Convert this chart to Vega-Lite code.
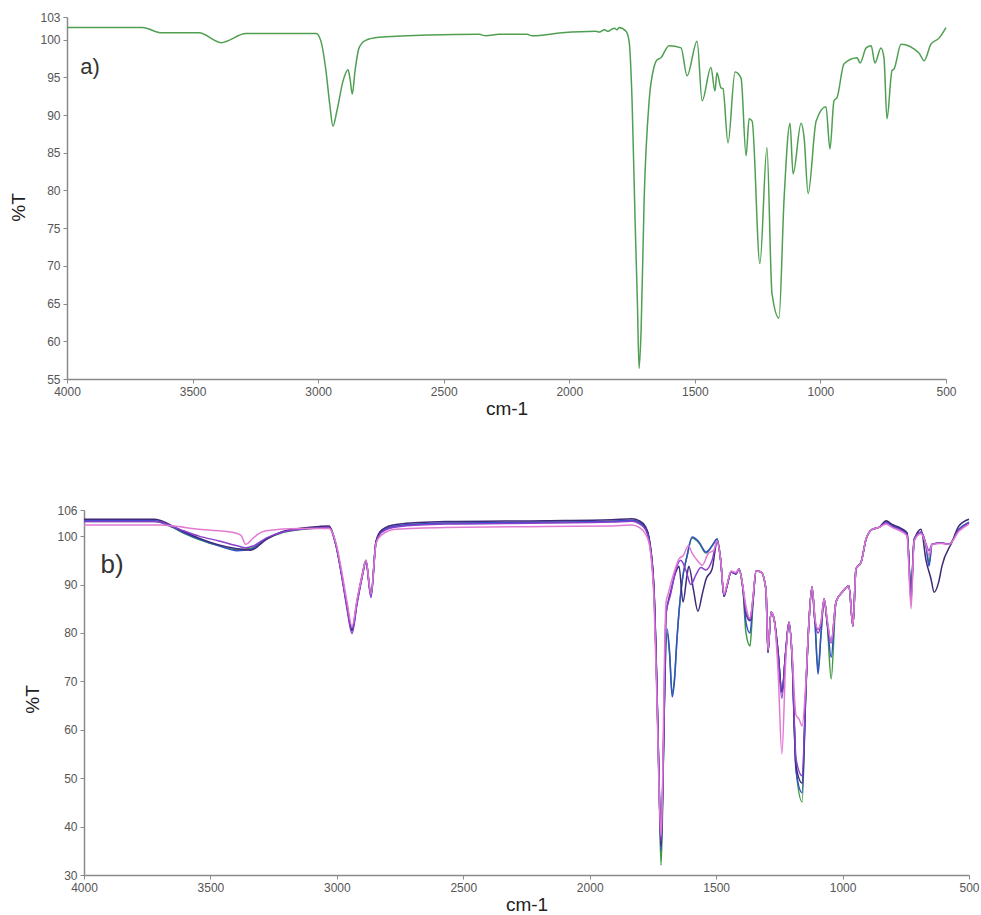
{
  "$schema": "https://vega.github.io/schema/vega-lite/v6.json",
  "background": "white",
  "padding": {"left": 0, "top": 11, "right": 0, "bottom": 0},
  "config": {
    "view": {"stroke": null},
    "font": "Liberation Sans",
    "axis": {
      "grid": false,
      "domainColor": "#8a8a8a",
      "domainWidth": 1.5,
      "tickColor": "#8a8a8a",
      "tickSize": 4,
      "labelPadding": 3,
      "labelFont": "Liberation Sans",
      "labelFontSize": 12,
      "labelColor": "#555555",
      "labelOverlap": false,
      "labelFlush": false,
      "titleFont": "Liberation Sans",
      "titleFontSize": 19,
      "titleFontWeight": "normal",
      "titleColor": "#222222"
    },
    "axisY": {"labelOverlap": false},
    "axisQuantitative": {"labelOverlap": false}
  },
  "spacing": 86,
  "vconcat": [
    {
      "spacing": 0,
      "hconcat": [
        {"width": 9, "height": 10, "data": {"values": []}, "mark": {"type": "point", "opacity": 0}, "encoding": {}},
        {
          "width": 879,
          "height": 362,
          "data": {"values": [
            {"w":4000,"t":101.6},{"w":3700,"t":101.6},{"w":3622,"t":100.9},{"w":3474,"t":100.9},{"w":3387,"t":99.6},{"w":3287,"t":100.8},{"w":3156,"t":100.8},{"w":3008,"t":100.8},{"w":2989,"t":99.8},{"w":2969,"t":95.9},{"w":2953,"t":91.2},{"w":2941,"t":88.5},{"w":2925,"t":90.6},{"w":2901,"t":94.5},{"w":2881,"t":96.0},{"w":2873,"t":94.8},{"w":2864,"t":92.8},{"w":2853,"t":95.9},{"w":2837,"t":98.9},{"w":2811,"t":99.9},{"w":2758,"t":100.3},{"w":2558,"t":100.6},{"w":2359,"t":100.7},{"w":2332,"t":100.5},{"w":2280,"t":100.7},{"w":2168,"t":100.7},{"w":2148,"t":100.5},{"w":2029,"t":100.9},{"w":1894,"t":101.1},{"w":1880,"t":101.0},{"w":1860,"t":101.3},{"w":1845,"t":101.1},{"w":1830,"t":101.4},{"w":1820,"t":101.5},{"w":1810,"t":101.3},{"w":1802,"t":101.6},{"w":1774,"t":101.1},{"w":1762,"t":99.8},{"w":1750,"t":91.9},{"w":1738,"t":76.0},{"w":1729,"t":65.4},{"w":1722,"t":56.4},{"w":1714,"t":61.5},{"w":1702,"t":78.7},{"w":1682,"t":91.9},{"w":1663,"t":96.3},{"w":1651,"t":97.3},{"w":1635,"t":97.6},{"w":1603,"t":99.2},{"w":1555,"t":98.9},{"w":1531,"t":95.2},{"w":1491,"t":99.8},{"w":1471,"t":91.9},{"w":1436,"t":96.3},{"w":1420,"t":93.2},{"w":1412,"t":95.6},{"w":1396,"t":93.6},{"w":1388,"t":93.5},{"w":1368,"t":86.3},{"w":1340,"t":95.7},{"w":1316,"t":94.9},{"w":1296,"t":84.6},{"w":1284,"t":89.5},{"w":1272,"t":89.2},{"w":1241,"t":70.3},{"w":1213,"t":85.7},{"w":1193,"t":66.4},{"w":1165,"t":63.1},{"w":1145,"t":78.7},{"w":1121,"t":88.9},{"w":1109,"t":82.2},{"w":1077,"t":88.9},{"w":1065,"t":87.0},{"w":1049,"t":79.6},{"w":1017,"t":89.2},{"w":978,"t":91.1},{"w":962,"t":85.5},{"w":946,"t":91.9},{"w":934,"t":92.3},{"w":906,"t":96.8},{"w":854,"t":97.6},{"w":842,"t":96.9},{"w":818,"t":98.9},{"w":798,"t":99.2},{"w":783,"t":96.9},{"w":759,"t":98.9},{"w":747,"t":97.6},{"w":735,"t":89.5},{"w":715,"t":95.9},{"w":707,"t":96.1},{"w":679,"t":99.4},{"w":607,"t":98.2},{"w":587,"t":97.2},{"w":560,"t":99.4},{"w":528,"t":100.2},{"w":500,"t":101.6}
          ]},
          "layer": [
            {
              "mark": {"type": "line", "color": "#4f9f52", "strokeWidth": 1.5, "interpolate": "monotone"},
              "encoding": {
                "x": {"field": "w", "type": "quantitative",
                  "scale": {"domain": [500, 4000], "reverse": true, "nice": false},
                  "axis": {"values": [4000, 3500, 3000, 2500, 2000, 1500, 1000, 500], "format": "d", "title": "cm-1", "titlePadding": 2, "labelOverlap": false}},
                "y": {"field": "t", "type": "quantitative",
                  "scale": {"domain": [55, 103], "nice": false, "zero": false},
                  "axis": {"values": [55, 60, 65, 70, 75, 80, 85, 90, 95, 100, 103], "title": "%T", "titlePadding": 11, "titleY": 190, "labelOverlap": false}}
              }
            },
            {
              "data": {"values": [{"label": "a)", "w": 3908, "t": 96.4}]},
              "mark": {"type": "text", "fontSize": 22, "color": "#333333", "align": "center", "baseline": "middle"},
              "encoding": {
                "x": {"field": "w", "type": "quantitative",
                  "axis": {"values": [4000, 3500, 3000, 2500, 2000, 1500, 1000, 500], "format": "d", "title": "cm-1", "titlePadding": 2, "labelOverlap": false}},
                "y": {"field": "t", "type": "quantitative",
                  "axis": {"values": [55, 60, 65, 70, 75, 80, 85, 90, 95, 100, 103], "title": "%T", "titlePadding": 11, "titleY": 190, "labelOverlap": false}},
                "text": {"field": "label"}
              }
            }
          ]
        }
      ]
    },
    {
      "spacing": 0,
      "hconcat": [
        {"width": 23, "height": 10, "data": {"values": []}, "mark": {"type": "point", "opacity": 0}, "encoding": {}},
        {
          "width": 885,
          "height": 365,
          "data": {"values": [
            {"s":"g","w":4000,"t":103.0},{"s":"g","w":3720,"t":103.0},{"s":"g","w":3680,"t":102.5},{"s":"g","w":3650,"t":101.8},{"s":"g","w":3600,"t":100.5},{"s":"g","w":3545,"t":99.3},{"s":"g","w":3466,"t":98.0},{"s":"g","w":3395,"t":97.2},{"s":"g","w":3340,"t":97.5},{"s":"g","w":3280,"t":99.4},{"s":"g","w":3217,"t":100.7},{"s":"g","w":3150,"t":101.3},{"s":"g","w":3070,"t":101.7},{"s":"g","w":3031,"t":101.8},{"s":"g","w":3003,"t":98.0},{"s":"g","w":2980,"t":91.7},{"s":"g","w":2960,"t":85.5},{"s":"g","w":2940,"t":80.6},{"s":"g","w":2920,"t":86.4},{"s":"g","w":2900,"t":91.7},{"s":"g","w":2885,"t":94.8},{"s":"g","w":2865,"t":87.8},{"s":"g","w":2845,"t":98.8},{"s":"g","w":2822,"t":101.0},{"s":"g","w":2766,"t":102.0},{"s":"g","w":2570,"t":102.6},{"s":"g","w":2173,"t":102.8},{"s":"g","w":1912,"t":103.0},{"s":"g","w":1833,"t":103.2},{"s":"g","w":1805,"t":102.8},{"s":"g","w":1780,"t":101.7},{"s":"g","w":1765,"t":99.3},{"s":"g","w":1746,"t":89.0},{"s":"g","w":1734,"t":68.0},{"s":"g","w":1726,"t":49.0},{"s":"g","w":1718,"t":32.0},{"s":"g","w":1712,"t":43.0},{"s":"g","w":1706,"t":62.0},{"s":"g","w":1694,"t":80.0},{"s":"g","w":1684,"t":75.5},{"s":"g","w":1674,"t":67.5},{"s":"g","w":1665,"t":70.5},{"s":"g","w":1655,"t":78.7},{"s":"g","w":1635,"t":90.5},{"s":"g","w":1615,"t":95.9},{"s":"g","w":1595,"t":99.6},{"s":"g","w":1568,"t":98.6},{"s":"g","w":1540,"t":96.5},{"s":"g","w":1516,"t":98.0},{"s":"g","w":1496,"t":99.4},{"s":"g","w":1482,"t":95.0},{"s":"g","w":1469,"t":87.6},{"s":"g","w":1457,"t":89.7},{"s":"g","w":1441,"t":92.6},{"s":"g","w":1422,"t":92.2},{"s":"g","w":1410,"t":93.2},{"s":"g","w":1394,"t":89.1},{"s":"g","w":1382,"t":80.0},{"s":"g","w":1366,"t":77.3},{"s":"g","w":1355,"t":85.5},{"s":"g","w":1342,"t":92.8},{"s":"g","w":1322,"t":92.6},{"s":"g","w":1303,"t":89.0},{"s":"g","w":1295,"t":76.0},{"s":"g","w":1283,"t":84.3},{"s":"g","w":1271,"t":82.9},{"s":"g","w":1255,"t":76.0},{"s":"g","w":1240,"t":67.8},{"s":"g","w":1225,"t":76.0},{"s":"g","w":1212,"t":82.2},{"s":"g","w":1200,"t":75.3},{"s":"g","w":1184,"t":52.0},{"s":"g","w":1160,"t":45.1},{"s":"g","w":1145,"t":68.4},{"s":"g","w":1133,"t":82.2},{"s":"g","w":1121,"t":89.5},{"s":"g","w":1109,"t":82.2},{"s":"g","w":1097,"t":72.5},{"s":"g","w":1085,"t":80.0},{"s":"g","w":1073,"t":87.0},{"s":"g","w":1061,"t":82.2},{"s":"g","w":1045,"t":70.5},{"s":"g","w":1026,"t":86.4},{"s":"g","w":1002,"t":88.4},{"s":"g","w":975,"t":89.7},{"s":"g","w":959,"t":81.4},{"s":"g","w":947,"t":93.2},{"s":"g","w":927,"t":94.6},{"s":"g","w":907,"t":99.4},{"s":"g","w":883,"t":101.4},{"s":"g","w":856,"t":101.8},{"s":"g","w":828,"t":102.8},{"s":"g","w":804,"t":102.0},{"s":"g","w":769,"t":101.3},{"s":"g","w":745,"t":100.4},{"s":"g","w":729,"t":88.0},{"s":"g","w":717,"t":99.4},{"s":"g","w":690,"t":100.8},{"s":"g","w":670,"t":98.0},{"s":"g","w":658,"t":94.5},{"s":"g","w":646,"t":98.3},{"s":"g","w":610,"t":98.6},{"s":"g","w":579,"t":98.3},{"s":"g","w":540,"t":101.4},{"s":"g","w":500,"t":102.8},

            {"s":"b","w":4000,"t":103.2},{"s":"b","w":3720,"t":103.2},{"s":"b","w":3680,"t":102.6},{"s":"b","w":3650,"t":101.9},{"s":"b","w":3600,"t":100.6},{"s":"b","w":3545,"t":99.4},{"s":"b","w":3466,"t":98.0},{"s":"b","w":3395,"t":97.0},{"s":"b","w":3340,"t":97.3},{"s":"b","w":3280,"t":99.4},{"s":"b","w":3217,"t":100.8},{"s":"b","w":3150,"t":101.4},{"s":"b","w":3070,"t":101.8},{"s":"b","w":3031,"t":101.9},{"s":"b","w":3003,"t":98.0},{"s":"b","w":2980,"t":91.7},{"s":"b","w":2960,"t":85.5},{"s":"b","w":2940,"t":80.4},{"s":"b","w":2920,"t":86.4},{"s":"b","w":2900,"t":91.7},{"s":"b","w":2885,"t":94.8},{"s":"b","w":2865,"t":87.6},{"s":"b","w":2845,"t":98.8},{"s":"b","w":2822,"t":101.0},{"s":"b","w":2766,"t":102.1},{"s":"b","w":2570,"t":102.7},{"s":"b","w":2173,"t":102.9},{"s":"b","w":1912,"t":103.1},{"s":"b","w":1833,"t":103.3},{"s":"b","w":1805,"t":102.9},{"s":"b","w":1780,"t":101.8},{"s":"b","w":1765,"t":99.4},{"s":"b","w":1746,"t":89.0},{"s":"b","w":1734,"t":68.0},{"s":"b","w":1726,"t":50.0},{"s":"b","w":1718,"t":35.0},{"s":"b","w":1712,"t":45.0},{"s":"b","w":1706,"t":62.0},{"s":"b","w":1694,"t":80.8},{"s":"b","w":1684,"t":76.0},{"s":"b","w":1674,"t":66.8},{"s":"b","w":1665,"t":70.0},{"s":"b","w":1655,"t":78.7},{"s":"b","w":1635,"t":90.5},{"s":"b","w":1615,"t":95.9},{"s":"b","w":1595,"t":99.8},{"s":"b","w":1568,"t":98.8},{"s":"b","w":1540,"t":96.7},{"s":"b","w":1516,"t":98.0},{"s":"b","w":1496,"t":99.4},{"s":"b","w":1482,"t":95.0},{"s":"b","w":1469,"t":87.6},{"s":"b","w":1457,"t":89.7},{"s":"b","w":1441,"t":92.6},{"s":"b","w":1422,"t":92.2},{"s":"b","w":1410,"t":93.2},{"s":"b","w":1394,"t":89.1},{"s":"b","w":1382,"t":82.2},{"s":"b","w":1366,"t":80.0},{"s":"b","w":1355,"t":86.0},{"s":"b","w":1342,"t":92.8},{"s":"b","w":1322,"t":92.6},{"s":"b","w":1303,"t":89.0},{"s":"b","w":1295,"t":76.0},{"s":"b","w":1283,"t":84.3},{"s":"b","w":1271,"t":82.9},{"s":"b","w":1255,"t":76.0},{"s":"b","w":1240,"t":67.8},{"s":"b","w":1225,"t":76.0},{"s":"b","w":1212,"t":82.2},{"s":"b","w":1200,"t":75.3},{"s":"b","w":1184,"t":51.5},{"s":"b","w":1160,"t":47.0},{"s":"b","w":1145,"t":68.4},{"s":"b","w":1133,"t":82.2},{"s":"b","w":1121,"t":89.5},{"s":"b","w":1109,"t":82.2},{"s":"b","w":1097,"t":71.5},{"s":"b","w":1085,"t":80.0},{"s":"b","w":1073,"t":87.0},{"s":"b","w":1061,"t":82.2},{"s":"b","w":1045,"t":75.0},{"s":"b","w":1026,"t":86.4},{"s":"b","w":1002,"t":88.4},{"s":"b","w":975,"t":89.7},{"s":"b","w":959,"t":81.4},{"s":"b","w":947,"t":93.2},{"s":"b","w":927,"t":94.6},{"s":"b","w":907,"t":99.4},{"s":"b","w":883,"t":101.4},{"s":"b","w":856,"t":101.8},{"s":"b","w":828,"t":102.9},{"s":"b","w":804,"t":102.1},{"s":"b","w":769,"t":101.4},{"s":"b","w":745,"t":100.5},{"s":"b","w":729,"t":88.4},{"s":"b","w":717,"t":99.4},{"s":"b","w":690,"t":100.8},{"s":"b","w":670,"t":98.0},{"s":"b","w":658,"t":93.8},{"s":"b","w":646,"t":98.3},{"s":"b","w":610,"t":98.6},{"s":"b","w":579,"t":98.3},{"s":"b","w":540,"t":101.4},{"s":"b","w":500,"t":102.9},

            {"s":"n","w":4000,"t":103.5},{"s":"n","w":3720,"t":103.5},{"s":"n","w":3680,"t":102.9},{"s":"n","w":3650,"t":102.1},{"s":"n","w":3600,"t":100.8},{"s":"n","w":3545,"t":99.6},{"s":"n","w":3466,"t":98.2},{"s":"n","w":3395,"t":97.4},{"s":"n","w":3340,"t":97.1},{"s":"n","w":3280,"t":99.3},{"s":"n","w":3217,"t":100.9},{"s":"n","w":3150,"t":101.6},{"s":"n","w":3070,"t":102.0},{"s":"n","w":3031,"t":102.1},{"s":"n","w":3003,"t":98.2},{"s":"n","w":2980,"t":91.9},{"s":"n","w":2960,"t":85.8},{"s":"n","w":2940,"t":80.6},{"s":"n","w":2920,"t":86.6},{"s":"n","w":2900,"t":91.9},{"s":"n","w":2885,"t":95.0},{"s":"n","w":2865,"t":87.9},{"s":"n","w":2845,"t":99.0},{"s":"n","w":2822,"t":101.3},{"s":"n","w":2766,"t":102.4},{"s":"n","w":2570,"t":103.0},{"s":"n","w":2173,"t":103.2},{"s":"n","w":1912,"t":103.4},{"s":"n","w":1833,"t":103.6},{"s":"n","w":1805,"t":103.2},{"s":"n","w":1780,"t":102.0},{"s":"n","w":1765,"t":99.6},{"s":"n","w":1746,"t":89.5},{"s":"n","w":1734,"t":68.5},{"s":"n","w":1726,"t":50.5},{"s":"n","w":1718,"t":36.0},{"s":"n","w":1712,"t":46.0},{"s":"n","w":1706,"t":62.0},{"s":"n","w":1698,"t":84.0},{"s":"n","w":1690,"t":86.4},{"s":"n","w":1680,"t":88.5},{"s":"n","w":1660,"t":92.5},{"s":"n","w":1647,"t":93.8},{"s":"n","w":1631,"t":86.4},{"s":"n","w":1615,"t":92.0},{"s":"n","w":1608,"t":93.8},{"s":"n","w":1590,"t":89.0},{"s":"n","w":1572,"t":84.5},{"s":"n","w":1555,"t":88.0},{"s":"n","w":1540,"t":91.1},{"s":"n","w":1516,"t":93.2},{"s":"n","w":1496,"t":98.8},{"s":"n","w":1482,"t":95.0},{"s":"n","w":1469,"t":87.6},{"s":"n","w":1457,"t":89.7},{"s":"n","w":1441,"t":92.6},{"s":"n","w":1422,"t":92.2},{"s":"n","w":1410,"t":93.2},{"s":"n","w":1394,"t":89.1},{"s":"n","w":1382,"t":84.0},{"s":"n","w":1366,"t":82.5},{"s":"n","w":1355,"t":86.5},{"s":"n","w":1342,"t":92.8},{"s":"n","w":1322,"t":92.6},{"s":"n","w":1303,"t":89.0},{"s":"n","w":1295,"t":76.0},{"s":"n","w":1283,"t":84.3},{"s":"n","w":1271,"t":82.9},{"s":"n","w":1255,"t":76.0},{"s":"n","w":1240,"t":67.8},{"s":"n","w":1225,"t":76.0},{"s":"n","w":1212,"t":82.2},{"s":"n","w":1200,"t":75.3},{"s":"n","w":1184,"t":52.5},{"s":"n","w":1160,"t":49.0},{"s":"n","w":1145,"t":68.4},{"s":"n","w":1133,"t":82.2},{"s":"n","w":1121,"t":89.5},{"s":"n","w":1109,"t":82.2},{"s":"n","w":1097,"t":80.8},{"s":"n","w":1085,"t":82.0},{"s":"n","w":1073,"t":87.0},{"s":"n","w":1061,"t":82.2},{"s":"n","w":1045,"t":78.0},{"s":"n","w":1026,"t":86.4},{"s":"n","w":1002,"t":88.4},{"s":"n","w":975,"t":89.7},{"s":"n","w":959,"t":81.4},{"s":"n","w":947,"t":93.2},{"s":"n","w":927,"t":94.6},{"s":"n","w":907,"t":99.4},{"s":"n","w":883,"t":101.4},{"s":"n","w":856,"t":101.8},{"s":"n","w":828,"t":103.2},{"s":"n","w":804,"t":102.4},{"s":"n","w":769,"t":101.6},{"s":"n","w":745,"t":100.7},{"s":"n","w":729,"t":88.4},{"s":"n","w":717,"t":99.0},{"s":"n","w":690,"t":101.4},{"s":"n","w":670,"t":95.0},{"s":"n","w":650,"t":91.1},{"s":"n","w":638,"t":88.4},{"s":"n","w":620,"t":90.5},{"s":"n","w":607,"t":93.8},{"s":"n","w":567,"t":98.8},{"s":"n","w":540,"t":102.1},{"s":"n","w":500,"t":103.5},

            {"s":"v","w":4000,"t":103.0},{"s":"v","w":3720,"t":103.0},{"s":"v","w":3680,"t":102.6},{"s":"v","w":3650,"t":102.0},{"s":"v","w":3600,"t":101.0},{"s":"v","w":3545,"t":100.0},{"s":"v","w":3466,"t":99.0},{"s":"v","w":3395,"t":98.0},{"s":"v","w":3360,"t":97.6},{"s":"v","w":3330,"t":98.0},{"s":"v","w":3280,"t":99.6},{"s":"v","w":3217,"t":100.8},{"s":"v","w":3150,"t":101.4},{"s":"v","w":3070,"t":101.7},{"s":"v","w":3031,"t":101.8},{"s":"v","w":3003,"t":98.0},{"s":"v","w":2980,"t":91.5},{"s":"v","w":2960,"t":85.0},{"s":"v","w":2940,"t":79.9},{"s":"v","w":2920,"t":86.0},{"s":"v","w":2900,"t":91.5},{"s":"v","w":2885,"t":94.6},{"s":"v","w":2865,"t":87.3},{"s":"v","w":2845,"t":98.6},{"s":"v","w":2822,"t":100.8},{"s":"v","w":2766,"t":101.9},{"s":"v","w":2570,"t":102.5},{"s":"v","w":2173,"t":102.7},{"s":"v","w":1912,"t":102.9},{"s":"v","w":1833,"t":103.1},{"s":"v","w":1805,"t":102.6},{"s":"v","w":1780,"t":101.4},{"s":"v","w":1765,"t":99.0},{"s":"v","w":1746,"t":88.5},{"s":"v","w":1734,"t":67.5},{"s":"v","w":1726,"t":49.5},{"s":"v","w":1718,"t":37.0},{"s":"v","w":1712,"t":47.0},{"s":"v","w":1706,"t":64.0},{"s":"v","w":1698,"t":84.0},{"s":"v","w":1680,"t":88.0},{"s":"v","w":1660,"t":93.0},{"s":"v","w":1640,"t":95.0},{"s":"v","w":1620,"t":93.0},{"s":"v","w":1600,"t":90.0},{"s":"v","w":1580,"t":92.0},{"s":"v","w":1560,"t":93.5},{"s":"v","w":1540,"t":93.0},{"s":"v","w":1516,"t":95.0},{"s":"v","w":1496,"t":99.0},{"s":"v","w":1482,"t":95.0},{"s":"v","w":1469,"t":87.8},{"s":"v","w":1457,"t":89.8},{"s":"v","w":1441,"t":92.6},{"s":"v","w":1422,"t":92.3},{"s":"v","w":1410,"t":93.2},{"s":"v","w":1394,"t":89.3},{"s":"v","w":1382,"t":84.5},{"s":"v","w":1366,"t":82.8},{"s":"v","w":1355,"t":86.8},{"s":"v","w":1342,"t":92.8},{"s":"v","w":1322,"t":92.6},{"s":"v","w":1303,"t":89.0},{"s":"v","w":1295,"t":76.2},{"s":"v","w":1283,"t":84.3},{"s":"v","w":1271,"t":82.9},{"s":"v","w":1255,"t":75.0},{"s":"v","w":1240,"t":66.5},{"s":"v","w":1225,"t":76.0},{"s":"v","w":1212,"t":82.2},{"s":"v","w":1200,"t":75.8},{"s":"v","w":1184,"t":54.0},{"s":"v","w":1160,"t":50.5},{"s":"v","w":1145,"t":69.0},{"s":"v","w":1133,"t":82.2},{"s":"v","w":1121,"t":89.5},{"s":"v","w":1109,"t":82.5},{"s":"v","w":1097,"t":80.0},{"s":"v","w":1085,"t":82.0},{"s":"v","w":1073,"t":87.0},{"s":"v","w":1061,"t":82.5},{"s":"v","w":1045,"t":78.0},{"s":"v","w":1026,"t":86.4},{"s":"v","w":1002,"t":88.4},{"s":"v","w":975,"t":89.7},{"s":"v","w":959,"t":81.6},{"s":"v","w":947,"t":93.2},{"s":"v","w":927,"t":94.6},{"s":"v","w":907,"t":99.4},{"s":"v","w":883,"t":101.4},{"s":"v","w":856,"t":101.8},{"s":"v","w":828,"t":102.7},{"s":"v","w":804,"t":101.9},{"s":"v","w":769,"t":101.2},{"s":"v","w":745,"t":100.3},{"s":"v","w":729,"t":86.5},{"s":"v","w":717,"t":99.2},{"s":"v","w":690,"t":100.8},{"s":"v","w":670,"t":98.4},{"s":"v","w":658,"t":97.0},{"s":"v","w":646,"t":98.4},{"s":"v","w":610,"t":98.6},{"s":"v","w":579,"t":98.4},{"s":"v","w":540,"t":101.2},{"s":"v","w":500,"t":102.7},

            {"s":"p","w":4000,"t":102.3},{"s":"p","w":3700,"t":102.3},{"s":"p","w":3600,"t":101.8},{"s":"p","w":3545,"t":101.4},{"s":"p","w":3414,"t":100.8},{"s":"p","w":3380,"t":100.2},{"s":"p","w":3360,"t":98.3},{"s":"p","w":3350,"t":98.6},{"s":"p","w":3335,"t":99.4},{"s":"p","w":3280,"t":101.1},{"s":"p","w":3150,"t":101.6},{"s":"p","w":3031,"t":101.6},{"s":"p","w":3003,"t":98.5},{"s":"p","w":2980,"t":92.5},{"s":"p","w":2960,"t":86.5},{"s":"p","w":2940,"t":81.4},{"s":"p","w":2920,"t":87.0},{"s":"p","w":2900,"t":92.0},{"s":"p","w":2885,"t":95.0},{"s":"p","w":2865,"t":88.0},{"s":"p","w":2845,"t":98.5},{"s":"p","w":2822,"t":100.3},{"s":"p","w":2766,"t":101.4},{"s":"p","w":2570,"t":101.8},{"s":"p","w":2173,"t":102.0},{"s":"p","w":1912,"t":102.1},{"s":"p","w":1833,"t":102.3},{"s":"p","w":1805,"t":101.8},{"s":"p","w":1780,"t":100.5},{"s":"p","w":1765,"t":98.5},{"s":"p","w":1746,"t":87.0},{"s":"p","w":1734,"t":66.0},{"s":"p","w":1726,"t":48.0},{"s":"p","w":1718,"t":38.0},{"s":"p","w":1712,"t":48.0},{"s":"p","w":1706,"t":70.0},{"s":"p","w":1698,"t":86.4},{"s":"p","w":1690,"t":88.0},{"s":"p","w":1675,"t":91.0},{"s":"p","w":1660,"t":93.5},{"s":"p","w":1647,"t":95.3},{"s":"p","w":1630,"t":96.0},{"s":"p","w":1610,"t":98.0},{"s":"p","w":1595,"t":96.5},{"s":"p","w":1575,"t":95.0},{"s":"p","w":1555,"t":94.0},{"s":"p","w":1530,"t":96.5},{"s":"p","w":1510,"t":97.0},{"s":"p","w":1496,"t":99.0},{"s":"p","w":1482,"t":95.0},{"s":"p","w":1469,"t":88.0},{"s":"p","w":1457,"t":90.0},{"s":"p","w":1441,"t":92.8},{"s":"p","w":1422,"t":92.5},{"s":"p","w":1410,"t":93.2},{"s":"p","w":1394,"t":89.5},{"s":"p","w":1382,"t":85.5},{"s":"p","w":1366,"t":83.0},{"s":"p","w":1355,"t":87.0},{"s":"p","w":1342,"t":92.8},{"s":"p","w":1322,"t":92.6},{"s":"p","w":1303,"t":89.0},{"s":"p","w":1295,"t":76.5},{"s":"p","w":1283,"t":84.3},{"s":"p","w":1271,"t":82.9},{"s":"p","w":1255,"t":72.0},{"s":"p","w":1240,"t":55.0},{"s":"p","w":1225,"t":74.0},{"s":"p","w":1212,"t":82.2},{"s":"p","w":1200,"t":76.0},{"s":"p","w":1184,"t":63.0},{"s":"p","w":1172,"t":62.2},{"s":"p","w":1160,"t":60.8},{"s":"p","w":1145,"t":70.0},{"s":"p","w":1133,"t":82.2},{"s":"p","w":1121,"t":89.5},{"s":"p","w":1109,"t":83.0},{"s":"p","w":1097,"t":80.8},{"s":"p","w":1085,"t":82.5},{"s":"p","w":1073,"t":87.0},{"s":"p","w":1061,"t":83.0},{"s":"p","w":1045,"t":78.1},{"s":"p","w":1026,"t":86.4},{"s":"p","w":1002,"t":88.4},{"s":"p","w":975,"t":89.7},{"s":"p","w":959,"t":81.4},{"s":"p","w":947,"t":93.2},{"s":"p","w":927,"t":94.6},{"s":"p","w":907,"t":99.4},{"s":"p","w":883,"t":101.4},{"s":"p","w":856,"t":101.8},{"s":"p","w":828,"t":102.5},{"s":"p","w":804,"t":101.8},{"s":"p","w":769,"t":101.0},{"s":"p","w":745,"t":100.0},{"s":"p","w":729,"t":85.0},{"s":"p","w":717,"t":99.0},{"s":"p","w":690,"t":100.5},{"s":"p","w":670,"t":98.3},{"s":"p","w":658,"t":96.0},{"s":"p","w":646,"t":98.3},{"s":"p","w":610,"t":98.5},{"s":"p","w":579,"t":98.3},{"s":"p","w":540,"t":101.0},{"s":"p","w":500,"t":102.5}
          ]},
          "layer": [
            {
              "mark": {"type": "line", "strokeWidth": 1.5, "interpolate": "monotone"},
              "encoding": {
                "x": {"field": "w", "type": "quantitative",
                  "scale": {"domain": [500, 4000], "reverse": true, "nice": false},
                  "axis": {"values": [4000, 3500, 3000, 2500, 2000, 1500, 1000, 500], "format": "d", "title": "cm-1", "titlePadding": 2, "labelOverlap": false}},
                "y": {"field": "t", "type": "quantitative",
                  "scale": {"domain": [30, 105.4], "nice": false, "zero": false},
                  "axis": {"values": [30, 40, 50, 60, 70, 80, 90, 100, 105.4], "labelExpr": "datum.value > 105 ? '106' : datum.label", "title": "%T", "titlePadding": 14, "titleY": 189, "labelOverlap": false}},
                "color": {"field": "s", "type": "nominal",
                  "scale": {"domain": ["g", "b", "n", "v", "p"], "range": ["#3f9a45", "#3350c8", "#3f2a78", "#8a3fd0", "#e27ad4"]},
                  "legend": null}
              }
            },
            {
              "data": {"values": [{"label": "b)", "w": 3889, "t": 94.0}]},
              "mark": {"type": "text", "fontSize": 26, "color": "#333333", "align": "center", "baseline": "middle"},
              "encoding": {
                "x": {"field": "w", "type": "quantitative",
                  "axis": {"values": [4000, 3500, 3000, 2500, 2000, 1500, 1000, 500], "format": "d", "title": "cm-1", "titlePadding": 2, "labelOverlap": false}},
                "y": {"field": "t", "type": "quantitative",
                  "axis": {"values": [30, 40, 50, 60, 70, 80, 90, 100, 105.4], "labelExpr": "datum.value > 105 ? '106' : datum.label", "title": "%T", "titlePadding": 14, "titleY": 189, "labelOverlap": false}},
                "text": {"field": "label"}
              }
            }
          ]
        }
      ]
    }
  ]
}
